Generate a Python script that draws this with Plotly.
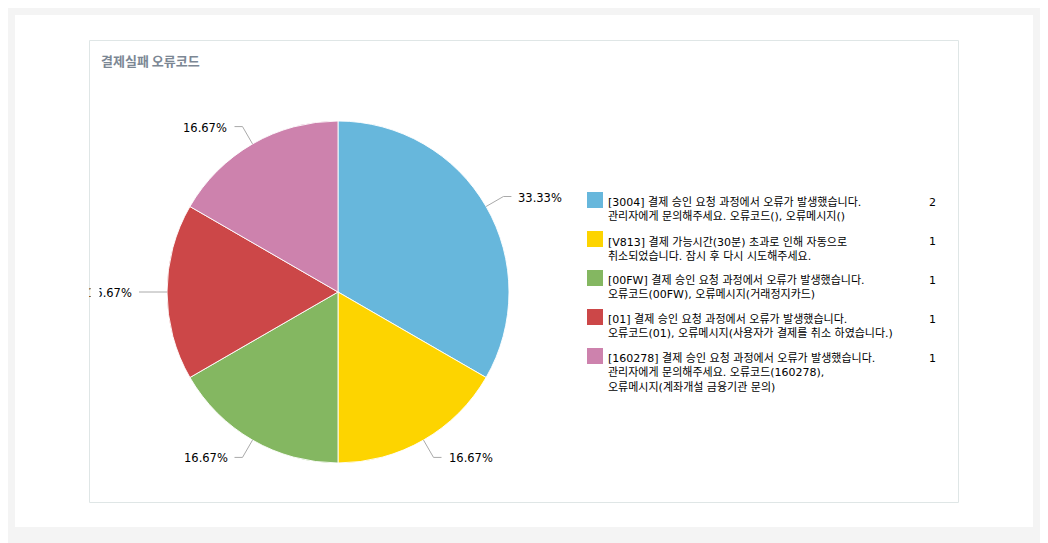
import math
import plotly.graph_objects as go

# the page body has an 8px margin, so the figure is drawn 8px in from the corner
OFF = 8
W, H = 1048 - OFF, 543 - OFF

# ---- data ----
title_text = "결제실패 오류코드"
codes = ["3004", "V813", "00FW", "01", "160278"]
legend_texts = [
    "[3004] 결제 승인 요청 과정에서 오류가 발생했습니다.<br>관리자에게 문의해주세요. 오류코드(), 오류메시지()",
    "[V813] 결제 가능시간(30분) 초과로 인해 자동으로<br>취소되었습니다. 잠시 후 다시 시도해주세요.",
    "[00FW] 결제 승인 요청 과정에서 오류가 발생했습니다.<br>오류코드(00FW), 오류메시지(거래정지카드)",
    "[01] 결제 승인 요청 과정에서 오류가 발생했습니다.<br>오류코드(01), 오류메시지(사용자가 결제를 취소 하였습니다.)",
    "[160278] 결제 승인 요청 과정에서 오류가 발생했습니다.<br>관리자에게 문의해주세요. 오류코드(160278),<br>오류메시지(계좌개설 금융기관 문의)",
]
counts = [2, 1, 1, 1, 1]
colors = ["#67b7dc", "#fdd400", "#84b761", "#cc4748", "#cd82ad"]

# ---- geometry (screen pixels) ----
CX, CY, R = 338, 292, 171
R_BEND = 191
HSEG = 8
TGAP = 5


def px(x):
    return (x - OFF) / W


def py(y):
    return 1 - (y - OFF) / H


fig = go.Figure()
fig.add_trace(go.Pie(
    labels=codes,
    values=counts,
    sort=False,
    direction="clockwise",
    rotation=0,
    marker=dict(colors=colors, line=dict(color="rgba(255,255,255,0.9)", width=1)),
    textinfo="none",
    hovertext=legend_texts,
    hoverinfo="text+value+percent",
    showlegend=False,
    domain=dict(x=[px(CX - R), px(CX + R)], y=[py(CY + R), py(CY - R)]),
))

shapes = [
    dict(type="rect", xref="paper", yref="paper", x0=px(15), x1=px(1033), y0=py(527), y1=py(15),
         fillcolor="white", line=dict(width=0), layer="below"),
    dict(type="rect", xref="paper", yref="paper", x0=px(89.5), x1=px(958.5), y0=py(502.5), y1=py(40.5),
         fillcolor="white", line=dict(color="#dfe6e6", width=1), layer="below"),
]
annotations = [
    dict(text="<b>" + title_text + "</b>", x=px(99), y=py(61), xref="paper", yref="paper",
         xanchor="left", yanchor="middle", showarrow=False,
         font=dict(family="Noto Sans CJK KR", size=13, color="#7c8794")),
]

# percent labels with connector lines
total = sum(counts)
cum = 0
for v in counts:
    mid = (cum + v / 2) / total * 2 * math.pi
    cum += v
    sx, sy = math.sin(mid), -math.cos(mid)
    x0, y0 = CX + R * sx, CY + R * sy
    x1, y1 = CX + R_BEND * sx, CY + R_BEND * sy
    side = 1 if sx >= 0 else -1
    x2 = x1 + side * HSEG
    shapes.append(dict(type="path", xref="paper", yref="paper",
                       path=f"M {px(x0)},{py(y0)} L {px(x1)},{py(y1)} L {px(x2)},{py(y1)}",
                       line=dict(color="#aaaaaa", width=1), layer="above"))
    pct = v / total * 100
    annotations.append(dict(text=f"{pct:.2f}%", x=px(x2 + side * TGAP), y=py(y1 + 1),
                            xref="paper", yref="paper", showarrow=False,
                            xanchor="left" if side > 0 else "right", yanchor="middle",
                            font=dict(family="Verdana, DejaVu Sans", size=11.5, color="#000000")))

# custom legend
LEG_TOP = 192
LEG_STEP = 39
for i, (t, c, v) in enumerate(zip(legend_texts, colors, counts)):
    top = LEG_TOP + i * LEG_STEP
    shapes.append(dict(type="rect", xref="paper", yref="paper", x0=px(587), x1=px(603),
                       y0=py(top + 16), y1=py(top), fillcolor=c, line=dict(width=0), layer="above"))
    annotations.append(dict(text=t, x=px(606), y=py(top + 2), xref="paper", yref="paper",
                            xanchor="left", yanchor="top", align="left", showarrow=False,
                            font=dict(family="Verdana, DejaVu Sans, Noto Sans CJK KR", size=11,
                                      color="#000000")))
    annotations.append(dict(text=str(v), x=px(938), y=py(top + 10), xref="paper", yref="paper",
                            xanchor="right", yanchor="middle", showarrow=False,
                            font=dict(family="Verdana, DejaVu Sans", size=11, color="#000000")))

# chart container clipping on the left edge
annotations.append(dict(text=" ", x=px(90), y=py(294), xref="paper", yref="paper",
                        xanchor="left", yanchor="middle", showarrow=False, width=8, height=18,
                        bgcolor="white", borderpad=0, font=dict(size=11)))

fig.update_layout(
    width=W, height=H,
    margin=dict(l=0, r=0, t=0, b=0),
    paper_bgcolor="#f4f4f4",
    plot_bgcolor="#f4f4f4",
    shapes=shapes,
    annotations=annotations,
    showlegend=False,
)

fig.write_html("out.html")
